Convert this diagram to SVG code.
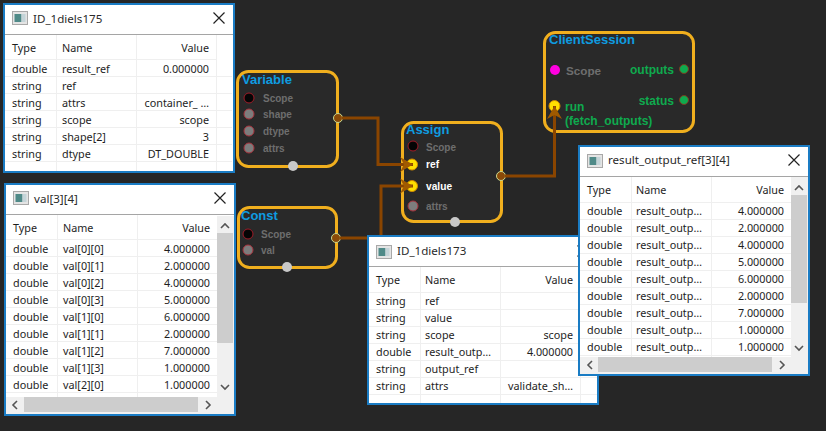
<svg xmlns="http://www.w3.org/2000/svg" width="826" height="431" viewBox="0 0 826 431">
<style>
.win{fill:#fff;stroke:#1a7cc4;stroke-width:2}
.tb{fill:none;stroke:#a5a5a5;stroke-width:1}
.t{font:10.8px "Noto Sans",sans-serif;fill:#1e1e1e}
.r{text-anchor:end}
.tt{font:11.6px "Noto Sans",sans-serif;fill:#2a2a2a}
.sep{stroke:#efefef;stroke-width:1;fill:none}
.x{stroke:#222;stroke-width:1.2;fill:none}
.sb{fill:#f0f0f0}
.th{fill:#cdcdcd}
.ar{fill:none;stroke:#555;stroke-width:1.6}
.node{fill:#292929;stroke:#f0af1e;stroke-width:3}
.nt{font:bold 13px "Liberation Sans",Arial,sans-serif;fill:#0f9ce0}
.pl{font:bold 10px "Liberation Sans",Arial,sans-serif;fill:#6e6e6e}
.pw{font:bold 10.200px "Liberation Sans",Arial,sans-serif;fill:#fff}
.pg{font:bold 12px "Liberation Sans",Arial,sans-serif;fill:#0faa4e}
.ps{fill:#050505;stroke:#a01c28;stroke-width:1}
.pi{fill:#7d7d7d;stroke:#a8323c;stroke-width:1}
.py{fill:#ffe000;stroke:#d08a00;stroke-width:1}
.po{fill:#8a4a08;stroke:#c8d890;stroke-width:1}
.pb{fill:#c8c8c8}
.pgn{fill:#0faa4e;stroke:#7a3a20;stroke-width:1}
.c{fill:none;stroke:#8a4500;stroke-width:3}
</style>
<defs>
<g id="ico"><rect x="0" y="0" width="15" height="13" fill="#e4e4e4" stroke="#a8a8a8"/><rect x="2" y="2.500" width="7" height="8" fill="#4f8a88"/><rect x="9" y="2.500" width="4" height="8" fill="#c4d4d8"/></g>
<path id="cx" d="M-5.500-5.500L5.500 5.500M5.500-5.500L-5.500 5.500" class="x"/>
<marker id="a" markerUnits="userSpaceOnUse" markerWidth="16" markerHeight="18" refX="14" refY="9" orient="auto"><path d="M1 1.500L14 9L1 16.500L5 9Z" fill="#a05a00"/></marker>
</defs>
<rect width="826" height="431" fill="#262626"/>
<g id="node-variable">
<rect class="node" x="237.500" y="71.500" width="100" height="95" rx="11"/>
<text class="nt" x="242" y="84">Variable</text>
<circle class="ps" cx="249" cy="98" r="5"/><circle class="pi" cx="249" cy="114" r="5"/><circle class="pi" cx="249" cy="131" r="5"/><circle class="pi" cx="249" cy="148" r="5"/>
<text class="pl" x="263" y="102">Scope</text><text class="pl" x="263" y="118">shape</text><text class="pl" x="263" y="135">dtype</text><text class="pl" x="263" y="152">attrs</text>
<circle class="po" cx="338" cy="118" r="4.500"/><circle class="pb" cx="293" cy="166" r="5"/>
</g>
<g id="node-const">
<rect class="node" x="238.500" y="207.500" width="98" height="60" rx="11"/>
<text class="nt" x="241" y="220">Const</text>
<circle class="ps" cx="248" cy="234" r="5"/><circle class="pi" cx="248" cy="250" r="5"/>
<text class="pl" x="261" y="238">Scope</text><text class="pl" x="261" y="254">val</text>
<circle class="po" cx="336" cy="238" r="4.500"/><circle class="pb" cx="287" cy="267" r="5"/>
</g>
<g id="node-assign">
<rect class="node" x="402.500" y="122.500" width="99" height="99" rx="11"/>
<text class="nt" x="406" y="134">Assign</text>
<circle class="ps" cx="413" cy="146" r="5"/><circle class="py" cx="412" cy="164.500" r="5.500"/><circle class="py" cx="412" cy="186" r="5.500"/><circle class="pi" cx="413" cy="206" r="5"/>
<text class="pl" x="426" y="151">Scope</text><text class="pw" x="426" y="168">ref</text><text class="pw" x="426" y="190">value</text><text class="pl" x="426" y="210">attrs</text>
<circle class="po" cx="501" cy="176" r="4.500"/><circle class="pb" cx="455" cy="222" r="5"/>
</g>
<g id="node-clientsession">
<rect class="node" x="544.500" y="32.500" width="149" height="99" rx="11"/>
<text class="nt" x="549" y="44">ClientSession</text>
<circle cx="555" cy="70" r="5" fill="#ff00e0"/><circle class="py" cx="554.500" cy="106" r="5.500"/>
<text class="pl" x="566" y="75" style="font-size:11.700px">Scope</text>
<text class="pg" x="565" y="111">run</text><text class="pg" x="565" y="125">(fetch_outputs)</text>
<text class="pg r" x="674" y="74">outputs</text><text class="pg r" x="674" y="105">status</text>
<circle class="pgn" cx="684" cy="69" r="4.500"/><circle class="pgn" cx="684" cy="100" r="4.500"/>
</g>
<g id="connectors">
<path class="c" d="M342 118H378V164.500H413" marker-end="url(#a)"/>
<path class="c" d="M340 238H381V186H413" marker-end="url(#a)"/>
<path class="c" d="M505 176H554.500V106" marker-end="url(#a)"/>
</g>
<g id="win-id175">
<rect class="win" x="4" y="4" width="230" height="168"/>
<use href="#ico" x="12.500" y="11.500"/>
<text class="tt" x="33" y="23">ID_1diels175</text>
<use href="#cx" x="219" y="18"/>
<path class="tb" d="M5 34.500H233"/>
<path class="sep" d="M5 59.500H216M5 76.500H232M5 93.500H232M5 110.500H232M5 127.500H232M5 144.500H232M5 161.500H232M56.500 35V171M136.500 35V171M216.500 35V171"/>
<g class="t">
<text x="12" y="52">Type</text><text x="62" y="52">Name</text><text class="r" x="209" y="52">Value</text>
<text x="12" y="73">double</text><text x="62" y="73">result_ref</text><text class="r" x="209" y="73">0.000000</text>
<text x="12" y="90">string</text><text x="62" y="90">ref</text>
<text x="12" y="107">string</text><text x="62" y="107">attrs</text><text class="r" x="209" y="107">container_ …</text>
<text x="12" y="124">string</text><text x="62" y="124">scope</text><text class="r" x="209" y="124">scope</text>
<text x="12" y="141">string</text><text x="62" y="141">shape[2]</text><text class="r" x="209" y="141">3</text>
<text x="12" y="158">string</text><text x="62" y="158">dtype</text><text class="r" x="209" y="158">DT_DOUBLE</text>
</g>
</g>
<g id="win-val">
<rect class="win" x="5" y="184" width="230" height="231"/>
<use href="#ico" x="13.500" y="191.500"/>
<text class="tt" x="34" y="203">val[3][4]</text>
<use href="#cx" x="220" y="198"/>
<path class="tb" d="M6 214.500H234"/>
<path class="sep" d="M6 239.500H217M6 256.500H217M6 273.500H217M6 290.500H217M6 307.500H217M6 324.500H217M6 341.500H217M6 358.500H217M6 375.500H217M6 392.500H217M57.500 215V397M137.500 215V397"/>
<rect class="sb" x="217" y="216" width="17" height="181"/><rect class="th" x="217" y="233" width="16" height="110"/>
<rect class="sb" x="6" y="397" width="228" height="17"/><rect class="th" x="24" y="397" width="174" height="15"/>
<path class="ar" d="M221 228L225 224L229 228M221 385L225 389L229 385M17 401L13 405L17 409M206 401L210 405L206 409"/>
<g class="t">
<text x="13" y="232">Type</text><text x="63" y="232">Name</text><text class="r" x="210" y="232">Value</text>
<text x="13" y="253">double</text><text x="63" y="253">val[0][0]</text><text class="r" x="210" y="253">4.000000</text>
<text x="13" y="270">double</text><text x="63" y="270">val[0][1]</text><text class="r" x="210" y="270">2.000000</text>
<text x="13" y="287">double</text><text x="63" y="287">val[0][2]</text><text class="r" x="210" y="287">4.000000</text>
<text x="13" y="304">double</text><text x="63" y="304">val[0][3]</text><text class="r" x="210" y="304">5.000000</text>
<text x="13" y="321">double</text><text x="63" y="321">val[1][0]</text><text class="r" x="210" y="321">6.000000</text>
<text x="13" y="338">double</text><text x="63" y="338">val[1][1]</text><text class="r" x="210" y="338">2.000000</text>
<text x="13" y="355">double</text><text x="63" y="355">val[1][2]</text><text class="r" x="210" y="355">7.000000</text>
<text x="13" y="372">double</text><text x="63" y="372">val[1][3]</text><text class="r" x="210" y="372">1.000000</text>
<text x="13" y="389">double</text><text x="63" y="389">val[2][0]</text><text class="r" x="210" y="389">1.000000</text>
</g>
</g>
<g id="win-id173">
<rect class="win" x="368" y="236" width="230" height="168"/>
<use href="#ico" x="376.500" y="245.500"/>
<text class="tt" x="397" y="255">ID_1diels173</text>
<use href="#cx" x="583" y="251"/>
<path class="tb" d="M369 266.500H597"/>
<path class="sep" d="M369 292.500H580M369 309.500H597M369 326.500H597M369 343.500H597M369 360.500H597M369 377.500H597M369 394.500H597M420.500 267V403M500.500 267V403M580.500 267V403"/>
<g class="t">
<text x="376" y="284">Type</text><text x="425" y="284">Name</text><text class="r" x="573" y="284">Value</text>
<text x="376" y="305">string</text><text x="425" y="305">ref</text>
<text x="376" y="322">string</text><text x="425" y="322">value</text>
<text x="376" y="339">string</text><text x="425" y="339">scope</text><text class="r" x="573" y="339">scope</text>
<text x="376" y="356">double</text><text x="425" y="356">result_outp…</text><text class="r" x="573" y="356">4.000000</text>
<text x="376" y="373">string</text><text x="425" y="373">output_ref</text>
<text x="376" y="390">string</text><text x="425" y="390">attrs</text><text class="r" x="573" y="390">validate_sh…</text>
</g>
</g>
<g id="win-result">
<rect class="win" x="579" y="146" width="230" height="229"/>
<use href="#ico" x="587.500" y="154.500"/>
<text class="tt" x="608" y="164">result_output_ref[3][4]</text>
<use href="#cx" x="794" y="160"/>
<path class="tb" d="M580 176.500H808"/>
<path class="sep" d="M580 202.500H791M580 219.500H791M580 236.500H791M580 253.500H791M580 270.500H791M580 287.500H791M580 304.500H791M580 321.500H791M580 338.500H791M580 355.500H791M631.500 177V357M711.500 177V357"/>
<rect class="sb" x="791" y="177" width="17" height="180"/><rect class="th" x="791" y="195" width="16" height="108"/>
<rect class="sb" x="580" y="357" width="228" height="17"/><rect class="th" x="598" y="357" width="174" height="15"/>
<path class="ar" d="M795 190L799 186L803 190M795 346L799 350L803 346M592 361L588 365L592 369M780 361L784 365L780 369"/>
<g class="t">
<text x="587" y="194">Type</text><text x="636" y="194">Name</text><text class="r" x="784" y="194">Value</text>
<text x="587" y="215">double</text><text x="636" y="215">result_outp…</text><text class="r" x="784" y="215">4.000000</text>
<text x="587" y="232">double</text><text x="636" y="232">result_outp…</text><text class="r" x="784" y="232">2.000000</text>
<text x="587" y="249">double</text><text x="636" y="249">result_outp…</text><text class="r" x="784" y="249">4.000000</text>
<text x="587" y="266">double</text><text x="636" y="266">result_outp…</text><text class="r" x="784" y="266">5.000000</text>
<text x="587" y="283">double</text><text x="636" y="283">result_outp…</text><text class="r" x="784" y="283">6.000000</text>
<text x="587" y="300">double</text><text x="636" y="300">result_outp…</text><text class="r" x="784" y="300">2.000000</text>
<text x="587" y="317">double</text><text x="636" y="317">result_outp…</text><text class="r" x="784" y="317">7.000000</text>
<text x="587" y="334">double</text><text x="636" y="334">result_outp…</text><text class="r" x="784" y="334">1.000000</text>
<text x="587" y="351">double</text><text x="636" y="351">result_outp…</text><text class="r" x="784" y="351">1.000000</text>
</g>
</g>
</svg>
